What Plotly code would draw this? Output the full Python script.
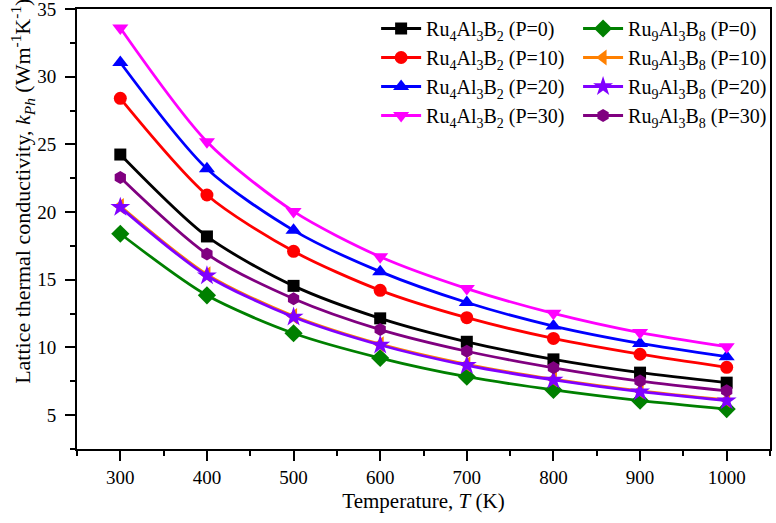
import plotly.graph_objects as go

temps = [300, 400, 500, 600, 700, 800, 900, 1000]

ru4_p0 = [24.25, 18.2, 14.55, 12.15, 10.42, 9.12, 8.14, 7.4]
ru4_p10 = [28.4, 21.26, 17.1, 14.22, 12.2, 10.67, 9.5, 8.53]
ru4_p20 = [31.05, 23.2, 18.65, 15.6, 13.32, 11.58, 10.3, 9.32]
ru4_p30 = [33.6, 25.2, 20.05, 16.7, 14.35, 12.52, 11.1, 10.06]
ru9_p0 = [18.4, 13.85, 11.05, 9.22, 7.84, 6.86, 6.07, 5.45]
ru9_p10 = [20.45, 15.4, 12.32, 10.24, 8.75, 7.66, 6.79, 6.12]
ru9_p20 = [20.35, 15.3, 12.25, 10.18, 8.68, 7.6, 6.73, 6.07]
ru9_p30 = [22.55, 16.9, 13.6, 11.32, 9.72, 8.5, 7.52, 6.8]

series = [
    ("Ru<sub>4</sub>Al<sub>3</sub>B<sub>2</sub> (P=0)", ru4_p0, "#000000", "square", 12, "legend"),
    ("Ru<sub>9</sub>Al<sub>3</sub>B<sub>8</sub> (P=0)", ru9_p0, "#008000", "diamond", 14, "legend2"),
    ("Ru<sub>4</sub>Al<sub>3</sub>B<sub>2</sub> (P=10)", ru4_p10, "#FF0000", "circle", 13, "legend"),
    ("Ru<sub>9</sub>Al<sub>3</sub>B<sub>8</sub> (P=10)", ru9_p10, "#FF8000", "triangle-left", 14, "legend2"),
    ("Ru<sub>4</sub>Al<sub>3</sub>B<sub>2</sub> (P=20)", ru4_p20, "#0000FF", "triangle-up", 14, "legend"),
    ("Ru<sub>9</sub>Al<sub>3</sub>B<sub>8</sub> (P=20)", ru9_p20, "#8000FF", "star", 15, "legend2"),
    ("Ru<sub>4</sub>Al<sub>3</sub>B<sub>2</sub> (P=30)", ru4_p30, "#FF00FF", "triangle-down", 14, "legend"),
    ("Ru<sub>9</sub>Al<sub>3</sub>B<sub>8</sub> (P=30)", ru9_p30, "#800080", "hexagon", 13, "legend2"),
]

fig = go.Figure()
for name, vals, color, sym, size, leg in series:
    fig.add_trace(go.Scatter(
        x=temps, y=vals, name=name, mode="lines+markers", legend=leg,
        line=dict(color=color, width=2.8, shape="spline", smoothing=0.8),
        marker=dict(symbol=sym, size=size, color=color, line=dict(width=0)),
    ))

font = "Liberation Serif"
legfont = dict(family=font, size=20, color="black")
fig.update_layout(
    width=776, height=523,
    margin=dict(l=77, r=5, t=9, b=74),
    paper_bgcolor="white", plot_bgcolor="white",
    font=dict(family=font, size=19, color="black"),
    showlegend=True,
    legend=dict(
        x=0.431, y=1.0, xanchor="left", yanchor="top",
        font=legfont, bgcolor="rgba(0,0,0,0)", itemwidth=40, traceorder="normal",
    ),
    legend2=dict(
        x=0.722, y=1.0, xanchor="left", yanchor="top",
        font=legfont, bgcolor="rgba(0,0,0,0)", itemwidth=40, traceorder="normal",
    ),
    xaxis=dict(
        range=[250, 1050], tickvals=[300, 400, 500, 600, 700, 800, 900, 1000],
        ticks="outside", ticklen=10, tickwidth=2, tickcolor="black",
        minor=dict(dtick=50, tick0=250, ticks="outside", ticklen=5, tickwidth=2, tickcolor="black"),
        showline=True, linewidth=2, linecolor="black", mirror=True,
        showgrid=False, zeroline=False, automargin=False,
        title=dict(text="Temperature, <i>T</i> (K)", font=dict(size=21), standoff=7),
        tickfont=dict(size=19),
    ),
    yaxis=dict(
        range=[2.5, 35.0001], tickvals=[5, 10, 15, 20, 25, 30, 35],
        ticks="outside", ticklen=10, tickwidth=2, tickcolor="black",
        minor=dict(dtick=2.5, tick0=0, ticks="outside", ticklen=5, tickwidth=2, tickcolor="black"),
        showline=True, linewidth=2, linecolor="black", mirror=True,
        showgrid=False, zeroline=False, automargin=False,
        ticklabelstandoff=5, ticklabeloverflow="allow",
        tickfont=dict(size=19),
    ),
    annotations=[dict(
        text="Lattice thermal conductivity, <i>k<sub>Ph</sub></i> (Wm<sup>-1</sup>K<sup>-1</sup>)",
        xref="paper", yref="paper", x=-0.079, y=0.585, xanchor="center", yanchor="middle",
        textangle=-90, showarrow=False, font=dict(family=font, size=22, color="black"),
    )],
)

fig.write_html("out.html", config={"displayModeBar": False},
               post_script="document.body.style.margin='0px';")
